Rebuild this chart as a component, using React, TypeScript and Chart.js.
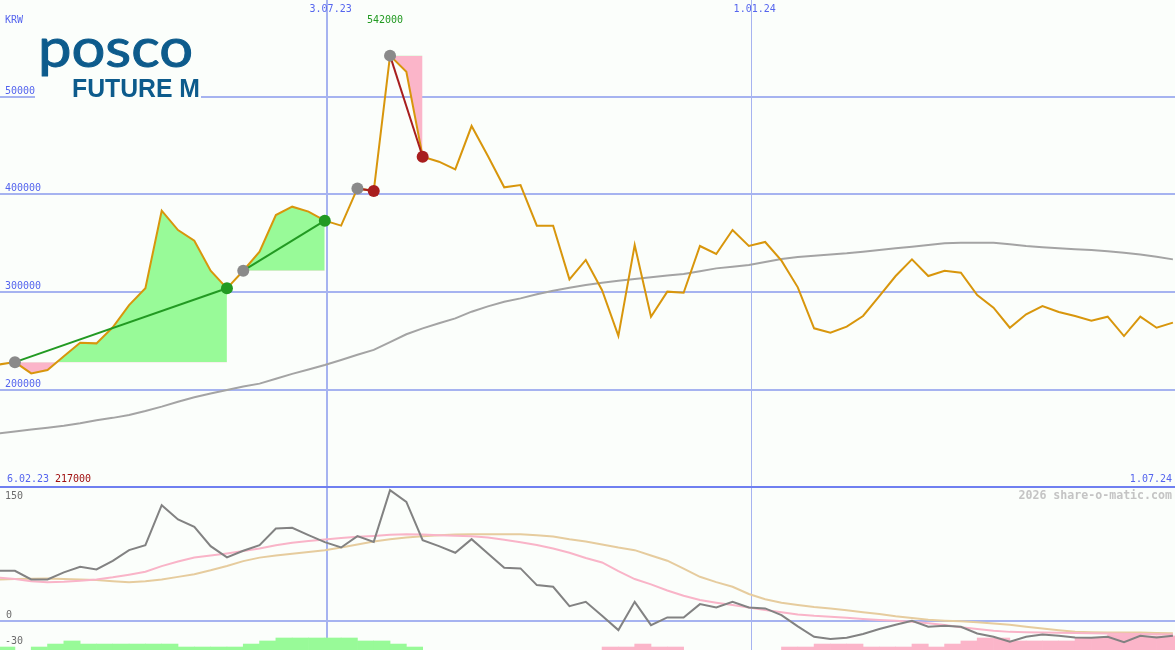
import React, { useEffect, useRef } from 'react';
import { Chart, registerables } from 'chart.js';

Chart.register(...registerables);

// ---------------- data ----------------
const firstWeek = '12.02.23';
const rangeStart = '6.02.23';
const rangeEnd = '1.07.24';
const dateMarks = ['3.07.23', '1.01.24'];
const currency = 'KRW';
const priceTicks = [500000, 400000, 300000, 200000];
const oscTicks = [150, 0, -30];
const watermark = '2026 share-o-matic.com';
const logoTop = 'posco';
const logoBottom = 'FUTURE M';

const prices = [
  226000, 228500, 217000, 220500, 234500, 248400, 247700, 264100, 286900, 304000,
  383400, 363600, 352700, 322000, 304000, 322000, 341500, 379000, 387500, 382400,
  373200, 368100, 406200, 403500, 542000, 525500, 438600, 433500, 425700, 470000,
  439300, 407300, 409600, 368100, 368100, 313200, 333000, 302000, 255400, 348300,
  275000, 300600, 299500, 347300, 339100, 363600, 347300, 351400, 332300, 305000,
  263100, 258600, 264800, 275700, 296100, 316600, 333600, 316600, 322000, 320000,
  297200, 284200, 263700, 277400, 285900, 279800, 275700, 270900, 275000, 255200,
  275000, 263700, 268900,
];

const movingAvg = [
  155700, 157500, 159500, 161500, 163500, 166000, 169000, 171500, 174400, 178500,
  183000, 188000, 192500, 196500, 200000, 203500, 206500, 211500, 216500, 221000,
  225600, 230700, 236000, 241000, 249000, 257000, 263000, 268200, 273300, 280100,
  285500, 290300, 293700, 298000, 301600, 304500, 307400, 309600, 311800, 313500,
  315200, 317000, 318600, 321500, 324400, 326000, 327800, 331000, 334000, 336000,
  337400, 338600, 339800, 341500, 343200, 345000, 346600, 348300, 350000, 350500,
  350700, 350700, 349000, 347300, 346000, 344900, 344000, 343200, 341800, 340400,
  338500, 336400, 333600,
];

const oscillator = [
  57.4, 57.4, 47.6, 47.6, 55.6, 62.0, 59.0, 68.8, 81.1, 86.8,
  132.4, 116.1, 107.6, 85.6, 72.7, 80.3, 86.8, 105.8, 106.5, 98.2,
  90.2, 84.1, 97.0, 90.5, 149.5, 136.2, 92.5, 85.6, 78.0, 93.6,
  77.3, 60.8, 60.2, 41.1, 39.2, 17.1, 22.0, 6.0, -10.3, 22.0,
  -4.6, 4.2, 4.2, 19.4, 15.6, 22.0, 15.6, 14.5, 6.8, -6.0,
  -17.9, -20.5, -19.0, -14.8, -9.1, -4.2, 0.4, -6.5, -5.3, -6.5,
  -14.1, -17.9, -23.6, -17.9, -15.2, -16.7, -18.7, -19.0, -17.9, -24.2,
  -16.7, -18.6, -16.7,
];

const oscFast = [
  49.5, 48, 45.5, 44.5, 45, 46, 47.6, 50, 53, 56.3,
  62.8, 68, 72.7, 75, 77.3, 80, 83, 86.5, 89.4, 91.5,
  93.3, 95, 96.2, 97.3, 98.5, 99.3, 98.8, 98, 97.5, 97,
  95.5, 93, 90, 87, 83, 78, 72, 67, 57, 48,
  42, 35, 29, 24, 21, 18.3, 15.5, 12.6, 10, 7.5,
  6, 5, 3.8, 2.5, 1.2, 0.3, -0.8, -2.5, -4.5, -7,
  -9, -11, -12.3, -12.7, -13, -13.3, -13.6, -13.9, -14.1, -14.4,
  -14.7, -15, -15.2,
];

const oscSlow = [
  47.6, 48, 48.5, 48.7, 48, 47.5, 46.8, 45.5, 44.5, 45.5,
  47.6, 50.5, 53.5, 58, 63, 68.5, 72.5, 75, 77, 79,
  81, 84, 87.5, 91, 93.5, 95.5, 96.8, 98, 99, 99.3,
  99.3, 99.3, 99.3, 98, 96.5, 93.5, 91, 87.5, 84, 81,
  75, 69, 60, 50.6, 44.5, 39.2, 31, 25, 21, 18.3,
  16, 14.3, 12.3, 10.2, 8, 5.5, 3.5, 1.5, 0.5, -0.3,
  -1.3, -2.7, -4.2, -6.5, -8.5, -10.5, -12.2, -12.6, -12.9, -13,
  -13.1, -13.5, -14,
];

// signal histogram (positive = green, negative = pink), height above panel floor
const signalBars = [
  3.4, 0, 3.4, 6.8, 10.3, 6.8, 6.8, 6.8, 6.8, 6.8,
  6.8, 3.4, 3.4, 3.4, 3.4, 6.8, 10.3, 13.7, 13.7, 13.7,
  13.7, 13.7, 10.3, 10.3, 6.8, 3.4, 0, 0, 0, 0,
  0, 0, 0, 0, 0, 0, 0, -3.4, -3.4, -6.8,
  -3.4, -3.4, 0, 0, 0, 0, 0, 0, -3.4, -3.4,
  -6.8, -6.8, -6.8, -3.4, -3.4, -3.4, -6.8, -3.4, -6.8, -10.3,
  -13.7, -13.7, -10.3, -10.3, -10.3, -10.3, -13.7, -13.7, -17.7, -17.7,
  -16, -16, -16,
];

const tradeBuys = [1, 15, 22, 24];
const tradeSells = [14, 20, 23, 26];

// ---------------- helpers ----------------
const DAY = 86400000;
const parseDay = (s: string) => {
  const [d, m, y] = s.split('.').map(Number);
  return Date.UTC(2000 + y, m - 1, d) / DAY;
};
const dayOffset = (s: string) => parseDay(s) - parseDay(firstWeek);
const weeks = prices.map((_, i) => {
  const t = new Date((parseDay(firstWeek) + 7 * i) * DAY);
  return `${t.getUTCDate()}.${String(t.getUTCMonth() + 1).padStart(2, '0')}.${String(t.getUTCFullYear() % 100).padStart(2, '0')}`;
});
const weekX = weeks.map(dayOffset);

// ---------------- layout / style ----------------
const W = 1175;
const TOP_H = 488;
const LOW_H = 162;
const PX_PER_DAY = 2.33;
const X_MIN = 0.6;
const X_MAX = X_MIN + W / PX_PER_DAY;
const P_MIN = 99760;
const P_MAX = 598900;
const O_MIN = -33;
const O_MAX = 152;

const BG = '#fbfefb';
const GRID = '#a6b3f0';
const SEP = '#6f7ff0';
const LABEL = '#5565ee';
const MONO = '10px "DejaVu Sans Mono"';
const ORANGE = '#d8960c';
const MA_GRAY = '#a4a4a4';
const FILL_GREEN = '#98fa98';
const FILL_PINK = '#fbb5c9';
const WIN = '#229a22';
const LOSS = '#a81e1e';
const DOT_GRAY = '#8a8a8a';
const LOGO = '#0d5b8c';

const text = (ctx: CanvasRenderingContext2D, s: string, x: number, y: number, color: string, align: CanvasTextAlign = 'left', font = MONO) => {
  ctx.save();
  ctx.font = font;
  ctx.fillStyle = color;
  ctx.textAlign = align;
  ctx.textBaseline = 'middle';
  ctx.fillText(s, x, y);
  ctx.restore();
};

const fitText = (ctx: CanvasRenderingContext2D, s: string, x: number, baseline: number, width: number, font: string, color: string, stroke = 0) => {
  ctx.save();
  ctx.font = font;
  ctx.fillStyle = color;
  ctx.strokeStyle = color;
  ctx.textBaseline = 'alphabetic';
  const w = ctx.measureText(s).width;
  ctx.translate(x, baseline);
  ctx.scale(width / w, 1);
  ctx.fillText(s, 0, 0);
  if (stroke > 0) {
    ctx.lineWidth = stroke;
    ctx.lineJoin = 'round';
    ctx.strokeText(s, 0, 0);
  }
  ctx.restore();
};

const drawDateLines = (chart: any, h: number) => {
  const { ctx, scales } = chart;
  ctx.save();
  ctx.strokeStyle = GRID;
  dateMarks.forEach((d, i) => {
    const px = scales.x.getPixelForValue(dayOffset(d));
    ctx.lineWidth = i === 0 ? 2 : 1;
    const xx = i === 0 ? Math.round(px) : Math.floor(px) + 0.5;
    ctx.beginPath();
    ctx.moveTo(xx, 0);
    ctx.lineTo(xx, h);
    ctx.stroke();
  });
  ctx.restore();
};

const topPlugin = {
  id: 'topDeco',
  beforeDraw(chart: any) {
    const { ctx } = chart;
    ctx.save();
    ctx.fillStyle = BG;
    ctx.fillRect(0, 0, W, TOP_H);
    ctx.restore();
  },
  beforeDatasetsDraw(chart: any) {
    const { ctx, scales } = chart;
    ctx.save();
    ctx.strokeStyle = GRID;
    ctx.lineWidth = 2;
    priceTicks.forEach((v) => {
      const py = Math.round(scales.y.getPixelForValue(v));
      ctx.beginPath();
      ctx.moveTo(0, py);
      ctx.lineTo(W, py);
      ctx.stroke();
    });
    ctx.restore();
    drawDateLines(chart, TOP_H);
    priceTicks.forEach((v) => {
      const py = Math.round(scales.y.getPixelForValue(v));
      text(ctx, String(v), 5, py - 6, LABEL);
    });
    text(ctx, currency, 5, 20, LABEL);
    // logo
    ctx.save();
    ctx.fillStyle = BG;
    ctx.fillRect(35, 30, 166, 70);
    ctx.restore();
    fitText(ctx, logoTop, 38, 67, 155, '55px Lato', LOGO, 1);
    fitText(ctx, logoBottom, 72, 97, 128, 'bold 25px "Liberation Sans"', LOGO);
    // separator
    ctx.save();
    ctx.fillStyle = SEP;
    ctx.fillRect(0, TOP_H - 2, W, 2);
    ctx.restore();
  },
  afterDatasetsDraw(chart: any) {
    const { ctx, scales } = chart;
    dateMarks.forEach((d) => {
      const px = scales.x.getPixelForValue(dayOffset(d));
      text(ctx, d, px + 3.5, 9, LABEL, 'center');
    });
    const maxV = Math.max(...prices);
    const minV = Math.min(...prices);
    const maxPx = scales.x.getPixelForValue(weekX[prices.indexOf(maxV)]);
    text(ctx, String(maxV), maxPx - 5, 20, WIN, 'center');
    text(ctx, rangeStart, 7, 479, LABEL);
    text(ctx, String(minV), 55, 479, '#a01010');
    text(ctx, rangeEnd, 1172, 479, LABEL, 'right');
  },
};

const lowPlugin = {
  id: 'lowDeco',
  beforeDraw(chart: any) {
    const { ctx } = chart;
    ctx.save();
    ctx.fillStyle = BG;
    ctx.fillRect(0, 0, W, LOW_H);
    ctx.restore();
  },
  beforeDatasetsDraw(chart: any) {
    const { ctx, scales } = chart;
    drawDateLines(chart, LOW_H);
    ctx.save();
    ctx.strokeStyle = GRID;
    ctx.lineWidth = 2;
    const py = Math.round(scales.y.getPixelForValue(0));
    ctx.beginPath();
    ctx.moveTo(0, py);
    ctx.lineTo(W, py);
    ctx.stroke();
    ctx.restore();
    oscTicks.forEach((v) => {
      const p = Math.max(scales.y.getPixelForValue(v) - 6, 8);
      text(ctx, String(v), v === 0 ? 6 : 5, p, '#6c6c6c');
    });
    text(ctx, watermark, 1172, 8, '#c4c4c4', 'right', 'bold 11.6px "DejaVu Sans Mono"');
  },
};

const xScale = { type: 'linear', min: X_MIN, max: X_MAX, display: false, offset: false };

const pts = (arr: number[]) => arr.map((v, i) => ({ x: weekX[i], y: v }));

const baseOptions = (yMin: number, yMax: number) => ({
  responsive: false,
  maintainAspectRatio: false,
  animation: false,
  devicePixelRatio: 1,
  events: [],
  layout: { padding: 0, autoPadding: false },
  plugins: { legend: { display: false }, tooltip: { enabled: false }, title: { display: false } },
  scales: {
    x: xScale as any,
    y: { type: 'linear', min: yMin, max: yMax, display: false },
  },
});

export default function App() {
  const topRef = useRef<HTMLCanvasElement>(null);
  const lowRef = useRef<HTMLCanvasElement>(null);

  useEffect(() => {
    document.body.style.margin = '0';
    const fills = tradeBuys.map((b, t) => ({
      type: 'line',
      data: prices.slice(b, tradeSells[t] + 1).map((v, j) => ({ x: weekX[b + j], y: v })),
      borderWidth: 0,
      pointRadius: 0,
      backgroundColor: FILL_GREEN,
      fill: { target: { value: prices[b] }, above: FILL_GREEN, below: FILL_PINK },
      order: 6,
    }));
    const tradeLines = tradeBuys.map((b, t) => {
      const s = tradeSells[t];
      return {
        type: 'line',
        data: [{ x: weekX[b], y: prices[b] }, { x: weekX[s], y: prices[s] }],
        borderColor: prices[s] >= prices[b] ? WIN : LOSS,
        borderWidth: 2,
        pointRadius: 0,
        fill: false,
        order: 2,
      };
    });
    const dotIdx = [...tradeBuys, ...tradeSells];
    const dotColors = [
      ...tradeBuys.map(() => DOT_GRAY),
      ...tradeSells.map((s, t) => (prices[s] >= prices[tradeBuys[t]] ? WIN : LOSS)),
    ];
    const top = new Chart(topRef.current as HTMLCanvasElement, {
      type: 'line',
      data: {
        datasets: [
          ...fills,
          {
            type: 'line',
            data: pts(movingAvg),
            borderColor: MA_GRAY,
            borderWidth: 2,
            pointRadius: 0,
            fill: false,
            order: 5,
          },
          {
            type: 'line',
            data: pts(prices),
            borderColor: ORANGE,
            borderWidth: 2,
            pointRadius: 0,
            fill: false,
            order: 4,
          },
          ...tradeLines,
          {
            type: 'line',
            data: dotIdx.map((i) => ({ x: weekX[i], y: prices[i] })),
            showLine: false,
            pointRadius: 6,
            pointBorderWidth: 0,
            pointBackgroundColor: dotColors,
            order: 1,
          },
        ] as any,
      },
      options: baseOptions(P_MIN, P_MAX) as any,
      plugins: [topPlugin],
    });

    const bars = signalBars
      .map((h, i) => ({ h, i }))
      .filter((b) => b.h !== 0);
    const low = new Chart(lowRef.current as HTMLCanvasElement, {
      type: 'line',
      data: {
        datasets: [
          {
            type: 'bar',
            data: bars.map((b) => ({ x: weekX[b.i] + 3.5, y: [O_MIN, O_MIN + Math.abs(b.h)] })),
            backgroundColor: bars.map((b) => (b.h > 0 ? FILL_GREEN : FILL_PINK)),
            borderWidth: 0,
            barPercentage: 1,
            categoryPercentage: 1,
            order: 5,
          },
          { type: 'line', data: pts(oscSlow), borderColor: '#e6cc9e', borderWidth: 2, pointRadius: 0, fill: false, order: 4 },
          { type: 'line', data: pts(oscFast), borderColor: '#f9b4c8', borderWidth: 2, pointRadius: 0, fill: false, order: 3 },
          { type: 'line', data: pts(oscillator), borderColor: '#828282', borderWidth: 2, pointRadius: 0, fill: false, order: 2 },
        ] as any,
      },
      options: baseOptions(O_MIN, O_MAX) as any,
      plugins: [lowPlugin],
    });
    return () => {
      top.destroy();
      low.destroy();
    };
  }, []);

  return (
    <div style={{ position: 'relative', width: W, height: TOP_H + LOW_H, background: BG }}>
      <canvas ref={topRef} width={W} height={TOP_H} style={{ display: 'block', position: 'absolute', left: 0, top: 0 }} />
      <canvas ref={lowRef} width={W} height={LOW_H} style={{ display: 'block', position: 'absolute', left: 0, top: TOP_H }} />
    </div>
  );
}
